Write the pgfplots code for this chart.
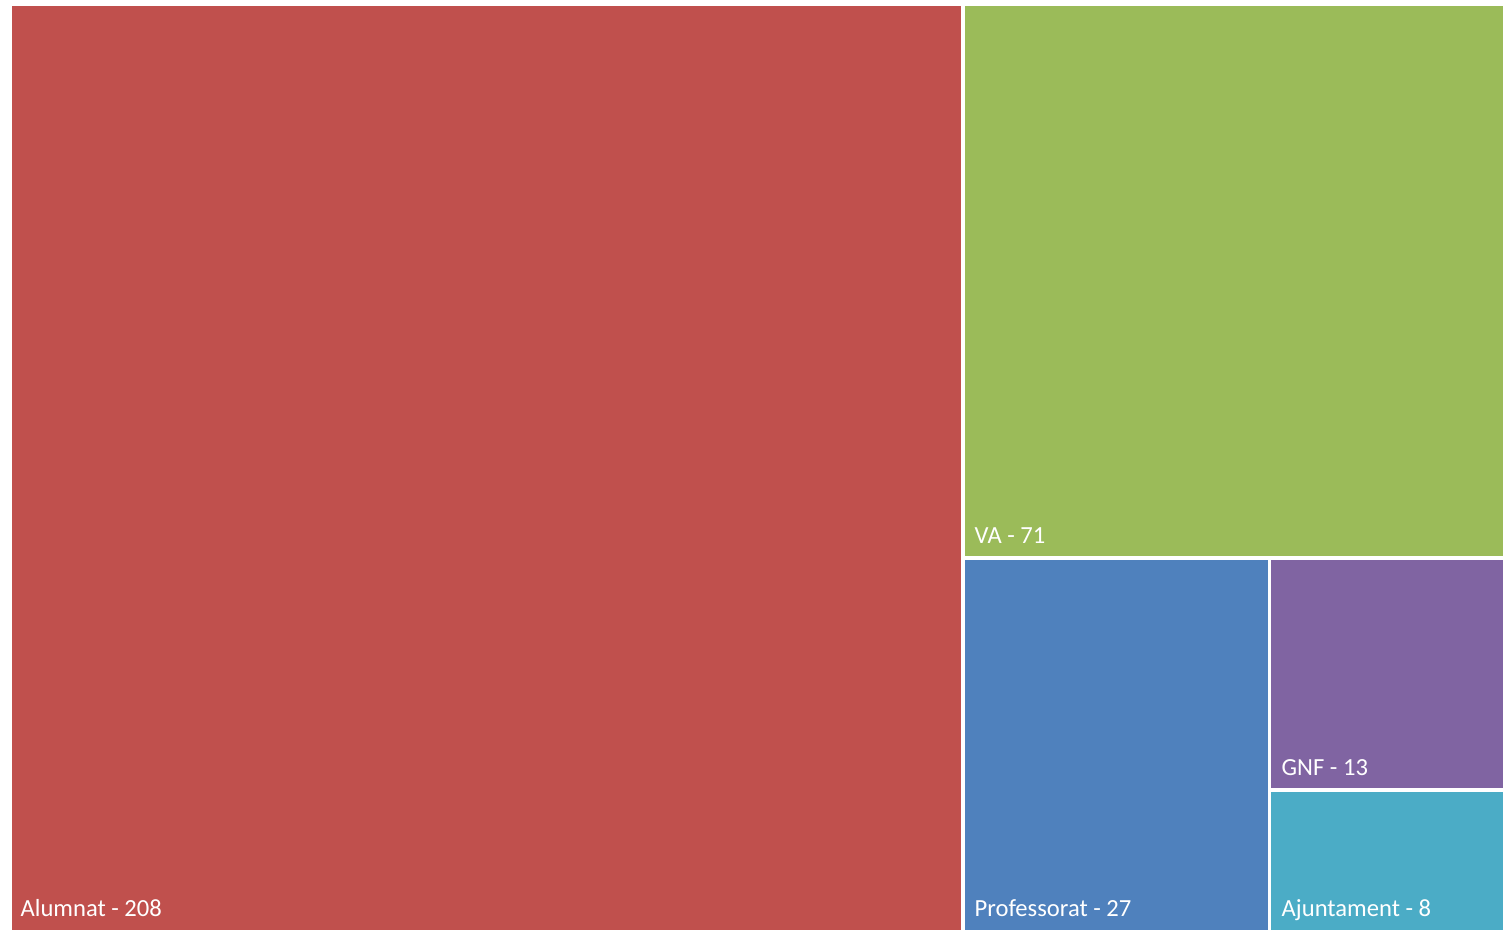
\documentclass[border=0pt]{standalone}
\usepackage{pgfplots}
\pgfplotsset{compat=1.18}
\usepackage{fontspec}
\setmainfont{Carlito}
\definecolor{cRed}{HTML}{C0504D}
\definecolor{cGreen}{HTML}{9BBB59}
\definecolor{cBlue}{HTML}{4F81BD}
\definecolor{cPurple}{HTML}{8064A2}
\definecolor{cCyan}{HTML}{4BACC6}
\tikzset{lbl/.style={anchor=base west, inner sep=0pt, text=white, font=\fontsize{7}{8}\selectfont}}
\begin{document}
\begin{tikzpicture}
\path[use as bounding box] (-0.1cm,0) rectangle (14.93cm,9.30cm);
\begin{axis}[
  at={(0,-0.03cm)}, anchor=south west,
  scale only axis, width=14.98cm, height=9.29cm,
  xmin=0, xmax=1498, ymin=0, ymax=929,
  hide axis, clip=false,
  every axis plot/.append style={draw=white, line width=1.1pt},
]
% Alumnat 208
\addplot[fill=cRed] coordinates {(0,0) (952.9,0) (952.9,929) (0,929)} -- cycle;
% VA 71
\addplot[fill=cGreen] coordinates {(952.9,374.7) (1498,374.7) (1498,929) (952.9,929)} -- cycle;
% Professorat 27
\addplot[fill=cBlue] coordinates {(952.9,0) (1259.5,0) (1259.5,374.7) (952.9,374.7)} -- cycle;
% GNF 13
\addplot[fill=cPurple] coordinates {(1259.5,142.7) (1498,142.7) (1498,374.7) (1259.5,374.7)} -- cycle;
% Ajuntament 8
\addplot[fill=cCyan] coordinates {(1259.5,0) (1498,0) (1498,142.7) (1259.5,142.7)} -- cycle;
\node[lbl] at (axis cs:10,16) {Alumnat - 208};
\node[lbl] at (axis cs:964,389) {VA - 71};
\node[lbl] at (axis cs:964,16) {Professorat - 27};
\node[lbl] at (axis cs:1271,157) {GNF - 13};
\node[lbl] at (axis cs:1271,16) {Ajuntament - 8};
\end{axis}
\end{tikzpicture}
\end{document}
